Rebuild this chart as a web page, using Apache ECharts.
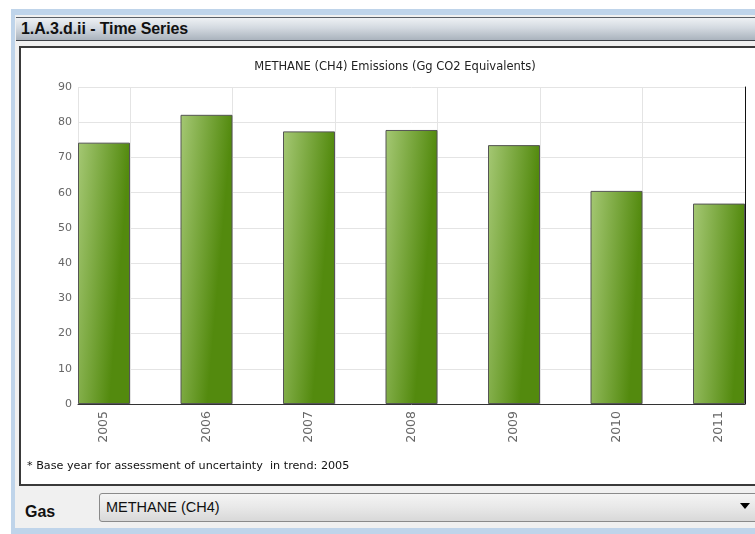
<!DOCTYPE html>
<html>
<head>
<meta charset="utf-8">
<script src="https://cdn.jsdelivr.net/npm/echarts@6/dist/echarts.min.js"></script>
<style>
    html, body { margin: 0; padding: 0; width: 755px; height: 534px; overflow: hidden; background: #fff; font-family: "Liberation Sans", Arial, sans-serif; }
    .frame { position: absolute; left: 11px; top: 9px; width: 744px; height: 525px; background: #bfd4ea; }
    .inner { position: absolute; left: 15px; top: 15px; width: 740px; height: 513px; background: #f0f0f0; }
    .titlebar { position: absolute; left: 16px; top: 17px; width: 739px; height: 22px; border-top: 1px solid #5a5f66; border-bottom: 1px solid #3e4248;
        background: linear-gradient(#eef1f4, #d3d9e0 45%, #aab3bd); }
    .titlebar span { position: absolute; left: 5px; top: 2px; font-weight: bold; font-size: 16px; letter-spacing: -0.1px; color: #111; }
    .panel { position: absolute; left: 19px; top: 46px; width: 740px; height: 436px; border: 2px solid #3a3a3a; background: #fff; }
    .gas { position: absolute; left: 25px; top: 503px; font-weight: bold; font-size: 16px; color: #111; }
    .combo { position: absolute; left: 99px; top: 493px; width: 670px; height: 27px; border: 1px solid #8a8a8a; border-radius: 3px;
        background: linear-gradient(#f4f4f4, #e8e8e8 50%, #d8d8d8); }
    .combo span { position: absolute; left: 6px; top: 5px; font-size: 14.5px; color: #111; }
    .arrow { position: absolute; left: 740px; top: 503px; width: 0; height: 0; border-left: 5px solid transparent; border-right: 5px solid transparent; border-top: 6px solid #000; }
    #chart { position: absolute; left: 0; top: 0; width: 755px; height: 534px; }
</style>
</head>
<body>
<div class="frame"></div>
<div class="inner"></div>
<div class="titlebar"><span>1.A.3.d.ii - Time Series</span></div>
<div class="panel"></div>
<div class="gas">Gas</div>
<div class="combo"><span>METHANE (CH4)</span></div>
<div class="arrow"></div>
<div id="chart"></div>
<script>
// values
const years = ['2005', '2006', '2007', '2008', '2009', '2010', '2011'];
const emissions = [74.2, 82.1, 77.4, 77.8, 73.5, 60.5, 56.9];
const yTicks = { min: 0, max: 90, step: 10 };

const chart = echarts.init(document.getElementById('chart'));

// mostly left-to-right, a touch darker towards the bottom
const barColor = new echarts.graphic.LinearGradient(0, 0, 1, 0.016, [
    { offset: 0, color: '#a5c874' },
    { offset: 1, color: '#538a0e' }
]);

const option = {
    animation: false,
    title: {
        text: 'METHANE (CH4) Emissions (Gg CO2 Equivalents)',
        left: 390,
        textAlign: 'center',
        top: 56,
        textStyle: { fontSize: 11.5, fontWeight: 'normal', color: '#222', fontFamily: 'DejaVu Sans' }
    },
    grid: [
        // frame: axes + gridlines
        { left: 78, right: 10, top: 87, bottom: 130 },
        // bars, one category per bar centre
        { left: 104, right: 36, top: 87, bottom: 130 }
    ],
    xAxis: [
        {
            gridIndex: 0,
            type: 'value',
            inverse: true,
            min: 0,
            max: 6.507,
            interval: 1,
            axisLine: { show: true, lineStyle: { color: '#333', width: 1 } },
            axisTick: { show: false },
            axisLabel: { show: false },
            splitLine: { show: true, lineStyle: { color: '#e4e4e4' } }
        },
        {
            gridIndex: 1,
            type: 'category',
            data: years,
            boundaryGap: false,
            axisLine: { show: false },
            axisTick: { show: false },
            splitLine: { show: false },
            axisLabel: {
                rotate: 90,
                margin: 7,
                color: '#666',
                fontSize: 12.5,
                fontFamily: 'DejaVu Sans'
            }
        }
    ],
    yAxis: [
        {
            gridIndex: 0,
            type: 'value',
            min: yTicks.min,
            max: yTicks.max,
            interval: yTicks.step,
            axisLine: { show: true, lineStyle: { color: '#111', width: 1 } },
            axisTick: { show: false },
            axisLabel: { color: '#666', fontSize: 11, margin: 6, fontFamily: 'DejaVu Sans' },
            splitLine: { show: true, lineStyle: { color: '#e4e4e4' } }
        },
        {
            gridIndex: 1,
            type: 'value',
            min: yTicks.min,
            max: yTicks.max,
            show: false
        }
    ],
    series: [
        {
            type: 'bar',
            xAxisIndex: 1,
            yAxisIndex: 1,
            data: emissions,
            barWidth: 52,
            clip: false,
            itemStyle: { color: barColor, borderColor: '#555', borderWidth: 1 }
        }
    ],
    graphic: [
        {
            type: 'text',
            left: 27,
            top: 461,
            style: {
                text: '* Base year for assessment of uncertainty  in trend: 2005',
                fontSize: 11.2,
                fill: '#111',
                fontFamily: 'DejaVu Sans'
            }
        }
    ]
};

chart.setOption(option);
</script>
</body>
</html>
